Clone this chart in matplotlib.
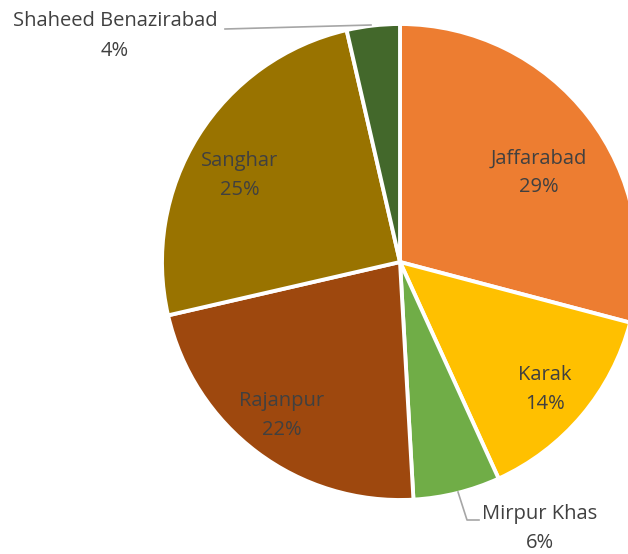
import matplotlib.pyplot as plt

regions = ['Jaffarabad', 'Karak', 'Mirpur Khas', 'Rajanpur', 'Sanghar', 'Shaheed Benazirabad']
shares = [29.1, 14.1, 5.9, 22.3, 25.0, 3.6]
pct_labels = ['29%', '14%', '6%', '22%', '25%', '4%']
colors = ['#ED7D31', '#FFC000', '#70AD47', '#9E480E', '#997300', '#43682B']

plt.rcParams['font.family'] = ['Open Sans', 'DejaVu Sans']

fig = plt.figure(figsize=(6.28, 5.54), dpi=100)
ax = fig.add_axes([0, 0, 1, 1])

# axes units = pixels, pie centre at (0, 0)
R = 238
ax.pie(shares, colors=colors, startangle=90, counterclock=False, radius=R,
       wedgeprops=dict(edgecolor='white', linewidth=2.8))
ax.set_xlim(-400, 228)
ax.set_ylim(-292, 262)
ax.set_aspect('equal')
ax.axis('off')

# label positions (pixel offsets from pie centre)
label_pos = [(139, 89), (145, -128), (140, -266), (-118, -154), (-160, 86), (-285, 226)]
txt = '#404040'
for name, pct, (x, y) in zip(regions, pct_labels, label_pos):
    ax.text(x, y, name + '\n' + pct, ha='center', va='center', fontsize=14.5,
            color=txt, linespacing=1.6)

# leader lines
ax.plot([-175, -29], [233, 237], color='#A6A6A6', lw=1.2)
ax.plot([58, 67, 79], [-230, -258, -258], color='#A6A6A6', lw=1.2)

fig.savefig('out.png', dpi=100)
